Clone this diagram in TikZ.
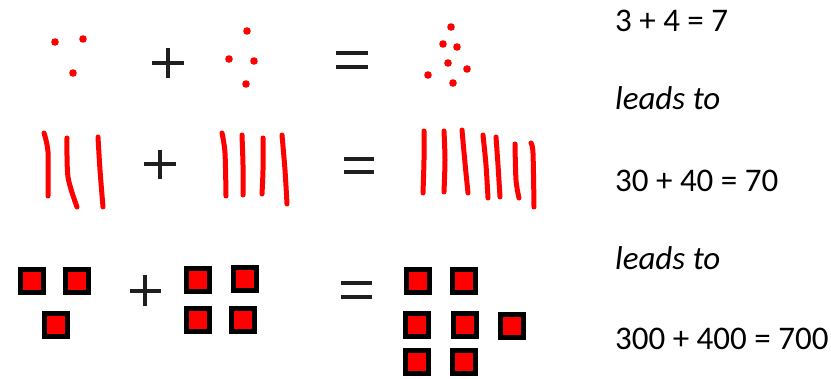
\documentclass[tikz,border=0pt]{standalone}
\usepackage{fontspec}
\setmainfont{Carlito}

\begin{document}
\begin{tikzpicture}[x=1pt,y=-1pt,
    dot/.style={circle,fill=red,inner sep=0pt,minimum size=7.6pt},
    tile/.style={rectangle,draw=black,fill=red,line width=4.6pt,inner sep=0pt,minimum size=22.5pt},
    tally/.style={draw=red,line width=5pt,line cap=round,line join=round},
    sign/.style={draw=black!88,line width=3.4pt},
    eqtext/.style={anchor=base west,inner sep=0pt,font=\fontsize{33}{40}\selectfont}]

    \useasboundingbox (0,0) rectangle (831,379);

    % row 1: dots
    \node[dot] (a1) at (55,42) {};
    \node[dot] (a2) at (83,39) {};
    \node[dot] (a3) at (73,73) {};

    \node[dot] (b1) at (247,31) {};
    \node[dot] (b2) at (229,59) {};
    \node[dot] (b3) at (254,61) {};
    \node[dot] (b4) at (246,84) {};

    \node[dot] (c1) at (451,27) {};
    \node[dot] (c2) at (443,44) {};
    \node[dot] (c3) at (457,47) {};
    \node[dot] (c4) at (448,63) {};
    \node[dot] (c5) at (467,69) {};
    \node[dot] (c6) at (428,75) {};
    \node[dot] (c7) at (453,83) {};

    \draw[sign] (152,63) -- (184,63) (168,48) -- (168,78);
    \draw[sign] (336,53) -- (368,53) (336,67) -- (368,67);

    % row 2: tally strokes
    \draw[tally] plot[smooth] coordinates {(44,133) (48,152) (48,196)};
    \draw[tally] plot[smooth] coordinates {(67,138) (68,177) (77,207)};
    \draw[tally] plot[smooth] coordinates {(98,137) (100,170) (103,207)};

    \draw[tally] plot[smooth] coordinates {(222,133) (225,153) (226,196)};
    \draw[tally] plot[smooth] coordinates {(242,135) (243,165) (243,195)};
    \draw[tally] plot[smooth] coordinates {(263,138) (263,170) (262,194)};
    \draw[tally] plot[smooth] coordinates {(282,135) (285,170) (287,204)};

    \draw[tally] plot[smooth] coordinates {(424,131) (424,160) (423,193)};
    \draw[tally] plot[smooth] coordinates {(444,131) (445,160) (444,192)};
    \draw[tally] plot[smooth] coordinates {(462,130) (465,163) (468,193)};
    \draw[tally] plot[smooth] coordinates {(483,135) (486,165) (488,198)};
    \draw[tally] plot[smooth] coordinates {(496,137) (498,165) (500,197)};
    \draw[tally] plot[smooth] coordinates {(515,144) (516,180) (519,198)};
    \draw[tally] plot[smooth] coordinates {(531,143) (533,153) (534,207)};

    \draw[sign] (144,164) -- (176,164) (160,150) -- (160,179);
    \draw[sign] (344,159) -- (374,159) (344,172) -- (374,172);

    % row 3: squares
    \node[tile] (p1) at (32,281) {};
    \node[tile] (p2) at (77,281) {};
    \node[tile] (p3) at (56,325) {};

    \node[tile] (q1) at (198,280) {};
    \node[tile] (q2) at (245,279) {};
    \node[tile] (q3) at (198,320) {};
    \node[tile] (q4) at (243,320) {};

    \node[tile] (r1) at (418,281) {};
    \node[tile] (r2) at (464,281) {};
    \node[tile] (r3) at (417,325) {};
    \node[tile] (r4) at (465,325) {};
    \node[tile] (r5) at (512,326) {};
    \node[tile] (r6) at (417,362) {};
    \node[tile] (r7) at (464,362) {};

    \draw[sign] (130,291) -- (161,291) (145,275) -- (145,306);
    \draw[sign] (341,283) -- (372,283) (341,297) -- (372,297);

    % sums on the right
    \node[eqtext] (sum1)  at (615,32)  {3 + 4 = 7};
    \node[eqtext] (lead1) at (615,110) {\itshape leads to};
    \node[eqtext] (sum2)  at (615,192) {30 + 40 = 70};
    \node[eqtext] (lead2) at (615,270) {\itshape leads to};
    \node[eqtext] (sum3)  at (615,350) {300 + 400 = 700};

\end{tikzpicture}
\end{document}
